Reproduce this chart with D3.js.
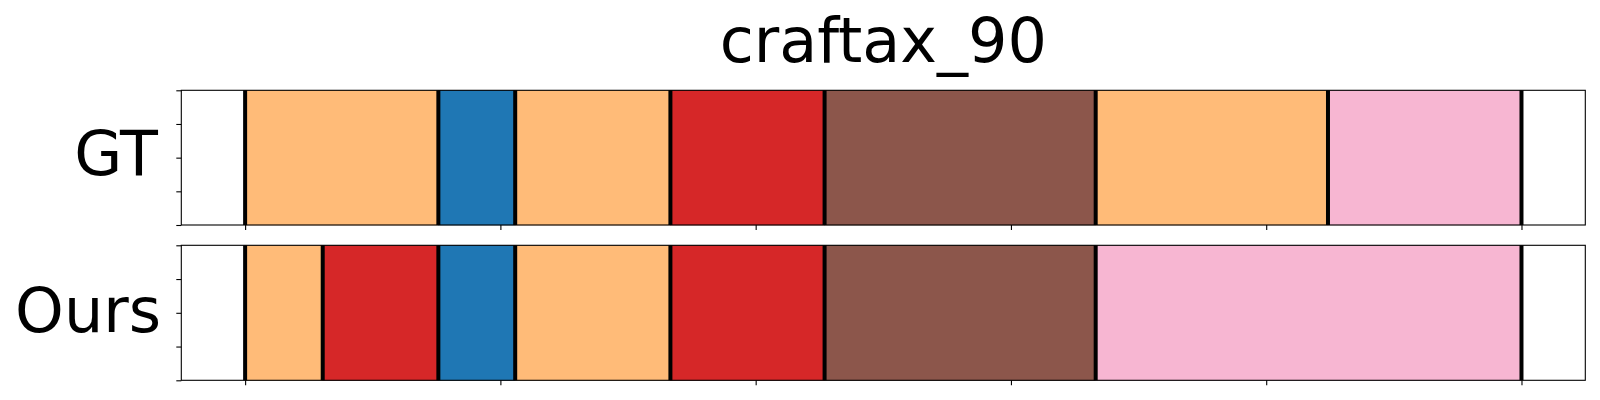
<!DOCTYPE html>
<html><head><meta charset="utf-8">
<script src="https://cdn.jsdelivr.net/npm/d3@7"></script>
<style>body{margin:0;background:#fff}svg{display:block}text{font-family:"DejaVu Sans",sans-serif}</style>
</head><body><svg id="c" width="1600" height="400"></svg>
<script>
const title = "craftax_90";
const rows = ["GT", "Ours"];
const xTicks = [0, 100, 200, 300, 400, 500];
const yTicks = [0, 0.25, 0.5, 0.75, 1];
const gtStarts = [0, 75.7, 105.8, 166.6, 227.0, 333.2, 424.2];
const gtEnds   = [75.7, 105.8, 166.6, 227.0, 333.2, 424.2, 500];
const gtClass  = ["orange", "blue", "orange", "red", "brown", "orange", "pink"];
const oursStarts = [0, 30.4, 75.7, 105.8, 166.6, 227.0, 333.2];
const oursEnds   = [30.4, 75.7, 105.8, 166.6, 227.0, 333.2, 500];
const oursClass  = ["orange", "red", "blue", "orange", "red", "brown", "pink"];
const classNames = ["blue", "orange", "red", "brown", "pink"];
const classColors = ["#1f77b4", "#ffbb78", "#d62728", "#8c564b", "#f7b6d2"];

const svg = d3.select("#c");
const color = d3.scaleOrdinal(classNames, classColors);
const x = d3.scaleLinear().domain([-25, 525]).range([181.3, 1585.3]);
const panels = [
  {label: rows[0], starts: gtStarts, ends: gtEnds, cls: gtClass, top: 90.3, bottom: 225, base: 175, lx: 158},
  {label: rows[1], starts: oursStarts, ends: oursEnds, cls: oursClass, top: 245.3, bottom: 380.3, base: 331.5, lx: 161}
];

panels.forEach(p => {
  const y = d3.scaleLinear().domain([0, 1]).range([p.bottom, p.top]);
  const g = svg.append("g");
  const segs = p.starts.map((s, i) => ({s, e: p.ends[i], c: p.cls[i]}));
  g.selectAll("rect.seg").data(segs).join("rect")
    .attr("x", d => x(d.s)).attr("width", d => x(d.e) - x(d.s))
    .attr("y", y(1)).attr("height", y(0) - y(1))
    .attr("fill", d => color(d.c))
    .attr("stroke", d => d3.color(color(d.c)).darker(0.4)).attr("stroke-width", 0.6);
  const bounds = p.starts.concat([p.ends[p.ends.length - 1]]);
  g.selectAll("line.b").data(bounds).join("line")
    .attr("x1", d => x(d)).attr("x2", d => x(d))
    .attr("y1", y(1)).attr("y2", y(0))
    .attr("stroke", "#000").attr("stroke-width", 4);
  const xa = g.append("g").attr("transform", `translate(0,${p.bottom})`)
    .call(d3.axisBottom(x).tickValues(xTicks).tickFormat("").tickSizeOuter(0).tickSize(5));
  const ya = g.append("g").attr("transform", `translate(${x.range()[0]},0)`)
    .call(d3.axisLeft(y).tickValues(yTicks).tickFormat("").tickSizeOuter(0).tickSize(5));
  [xa, ya].forEach(a => { a.select(".domain").remove(); a.selectAll("line").attr("stroke", "#000").attr("stroke-width", 1.1); });
  g.append("rect").attr("x", x.range()[0]).attr("y", p.top)
    .attr("width", x.range()[1] - x.range()[0]).attr("height", p.bottom - p.top)
    .attr("fill", "none").attr("stroke", "#000").attr("stroke-width", 1.1);
  g.append("text").attr("x", p.lx).attr("y", p.base).attr("text-anchor", "end")
    .attr("font-size", 62).attr("fill", "#000").text(p.label);
});

svg.append("text").attr("x", (x.range()[0] + x.range()[1]) / 2).attr("y", 61.5)
  .attr("text-anchor", "middle").attr("font-size", 62).attr("fill", "#000").text(title);
</script></body></html>
